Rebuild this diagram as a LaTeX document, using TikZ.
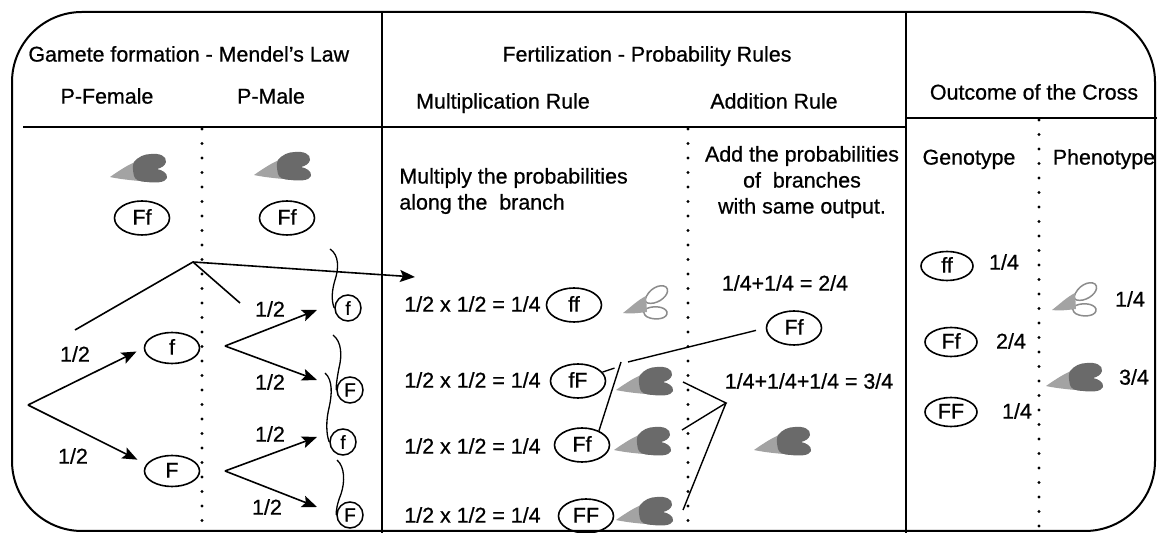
\documentclass[tikz,border=0pt]{standalone}
\usepackage{fontspec}
\setmainfont{Liberation Sans}[FakeBold=0.7]
\usetikzlibrary{arrows.meta,shapes.geometric,calc}

\definecolor{wingdark}{HTML}{6A6A6A}
\definecolor{winglight}{HTML}{A3A3A3}
\definecolor{wingline}{HTML}{8C8C8C}

\tikzset{
  every node/.style={font=\fontsize{10.7}{13}\selectfont, inner sep=0pt},
  txt/.style={text height=1.5ex, text depth=.25ex},
  geno/.style={ellipse, draw, line width=0.8pt, minimum width=27.5pt, minimum height=17pt, txt},
  genoR/.style={geno, minimum width=26pt, minimum height=14.5pt},
  gam/.style={circle, draw, line width=0.75pt, minimum size=13pt, font=\fontsize{9.5}{10}\selectfont},
  divider/.style={line width=1.4pt},
  outline/.style={line width=1pt},
  dotline/.style={line width=1.6pt, line cap=round, dash pattern=on 0pt off 7.25pt},
  treearrow/.style={line width=0.8pt, -{Stealth[length=7.5pt,width=6pt,inset=1.5pt]}},
  joinline/.style={line width=0.7pt},
  squig/.style={line width=0.65pt},
}

% fly with dark (normal) wings
\newcommand{\darkfly}[1]{%
  \begin{scope}[shift={(#1)}]
    \fill[winglight] (-29,9) .. controls (-19,2) and (-11,-3) .. (-4,-6) -- (0,13)
      .. controls (-10,12) and (-20,11) .. (-29,9) -- cycle;
    \fill[wingdark] (-5,-6) .. controls (-1,-11) and (5,-14) .. (12,-14)
      .. controls (20,-15) and (28,-12) .. (27,-6)
      .. controls (26,-2) and (22,0) .. (18,1)
      .. controls (23,2) and (29,5) .. (28,10)
      .. controls (26,15) and (16,15) .. (8,14)
      .. controls (1,14) and (-4,12) .. (-5,8)
      .. controls (-6,3) and (-7,-2) .. (-5,-6) -- cycle;
  \end{scope}}

% fly with pale (mutant) wings
\newcommand{\palefly}[1]{%
  \begin{scope}[shift={(#1)}]
    \filldraw[fill=white, draw=wingline, line width=0.75pt]
      (0,-2) .. controls (3,-13) and (15,-19) .. (21,-15)
      .. controls (26,-10) and (18,-1) .. (9,1)
      .. controls (4,2) and (0,1) .. (0,-2) -- cycle;
    \filldraw[fill=white, draw=wingline, line width=0.75pt]
      (-1,8) .. controls (6,3) and (20,4) .. (22,10)
      .. controls (23,17) and (11,18) .. (5,16)
      .. controls (0,15) and (-2,11) .. (-1,8) -- cycle;
    \fill[winglight] (-22,11) .. controls (-13,4) and (-7,-2) .. (1,-6) -- (2,10)
      .. controls (-6,11) and (-14,12) .. (-22,11) -- cycle;
  \end{scope}}

\begin{document}
\begin{tikzpicture}[x=0.5pt, y=-0.5pt]
\useasboundingbox (0,0) rectangle (1157,533);

% frame and column structure
\draw[outline, rounded corners=35pt] (12,12) rectangle (1155,531);
\draw[divider] (382,12) -- (382,533);
\draw[divider] (906,12) -- (906,533);
\draw[outline] (23,127) -- (906,127);
\draw[outline] (906,118) -- (1157,118);
\draw[dotline] (202,129) -- (202,533);
\draw[dotline] (688,129) -- (688,533);
\draw[dotline] (1039,120) -- (1039,533);

% headings
\node[txt, anchor=west] (tGam) at (28,55) {Gamete formation - Mendel's Law};
\node[txt] (tFem) at (107,97) {P-Female};
\node[txt] (tMale) at (271,97) {P-Male};
\node[txt] (tFert) at (647,55) {Fertilization - Probability Rules};
\node[txt] (tMul) at (503,102) {Multiplication Rule};
\node[txt] (tAdd) at (774,102) {Addition Rule};
\node[txt] (tOut) at (1034,93) {Outcome of the Cross};

% parents
\darkfly{139,168}
\darkfly{283,166}
\node[geno] (pFem) at (142,218) {Ff};
\node[geno] (pMale) at (287,218) {Ff};

% female gametes
\coordinate (root) at (28,405);
\node[geno, minimum height=15.5pt] (fe1) at (172,348) {f};
\node[geno, minimum height=15.5pt] (fe2) at (172,471) {F};
\draw[treearrow, shorten >=4pt] (root) -- (fe1.west);
\draw[treearrow, shorten >=5pt] (root) -- (fe2.165);
\node[txt] (lf1) at (75,355) {1/2};
\node[txt] (lf2) at (73,457) {1/2};

% male gametes
\coordinate (b1) at (225,346);
\coordinate (b2) at (225,471);
\coordinate (a1) at (317,310);
\coordinate (a2) at (317,380);
\coordinate (a3) at (317,437);
\coordinate (a4) at (317,507);
\draw[treearrow] (b1) -- (a1);
\draw[treearrow] (b1) -- (a2);
\draw[treearrow] (b2) -- (a3);
\draw[treearrow] (b2) -- (a4);
\node[txt] (lm1) at (270,310) {1/2};
\node[txt] (lm2) at (270,383) {1/2};
\node[txt] (lm3) at (270,435) {1/2};
\node[txt] (lm4) at (267,508) {1/2};

\node[gam] (g1) at (348,308) {f};
\node[gam] (g2) at (350,390) {F};
\node[gam] (g3) at (343,442) {f};
\node[gam] (g4) at (350,515) {F};
\coordinate (q1) at (330,249);
\coordinate (q2) at (333,335);
\coordinate (q3) at (325,373);
\coordinate (q4) at (337,460);
\draw[squig] (q1) .. controls (339,255) and (339,268) .. (335,280)
  .. controls (332,290) and (331,300) .. (g1.west);
\draw[squig] (q2) .. controls (342,342) and (342,356) .. (339,368)
  .. controls (337,378) and (336,386) .. (g2.west);
\draw[squig] (q3) .. controls (333,380) and (332,395) .. (329,408)
  .. controls (326,420) and (326,434) .. (g3.west);
\draw[squig] (q4) .. controls (345,467) and (345,482) .. (341,494)
  .. controls (337,504) and (336,511) .. (g4.west);

% path of the first branch into the multiplication rule
\coordinate (pa) at (75,330);
\coordinate (pk) at (193,262);
\coordinate (pb) at (240,303);
\coordinate (mulIn) at (415,277);
\draw[joinline, line width=0.8pt] (pa) -- (pk) -- (pb);
\draw[treearrow] (pk) -- (mulIn);

% multiplication rule
\node[align=left, anchor=west] (tMulDesc) at (399,191) {Multiply the probabilities\\along the~ branch};
\node[txt, anchor=west] (m1) at (404,305) {1/2 x 1/2 = 1/4};
\node[txt, anchor=west] (m2) at (404,381) {1/2 x 1/2 = 1/4};
\node[txt, anchor=west] (m3) at (404,447) {1/2 x 1/2 = 1/4};
\node[txt, anchor=west] (m4) at (404,516) {1/2 x 1/2 = 1/4};
\node[geno] (gff) at (574,305) {ff};
\node[geno] (gfF) at (578,381) {fF};
\node[geno] (gFf) at (582,445) {Ff};
\node[geno] (gFF) at (586,516) {FF};
\palefly{645,302}
\darkfly{645,381}
\darkfly{643,441}
\darkfly{645,511}

% addition rule
\node[align=center] (tAddDesc) at (802,182) {Add the probabilities\\of~ branches\\with same output.};
\node[txt] (s2) at (785,284) {1/4+1/4 = 2/4};
\node[geno] (aFf) at (794,328) {Ff};
\node[txt] (s3) at (809,382) {1/4+1/4+1/4 = 3/4};
\darkfly{783,441}

\coordinate (j1) at (621,362);
\coordinate (j2) at (628,362);
\draw[joinline] (gfF.20) -- ++(12,-4);
\draw[joinline] (gFf.40) -- (j1);
\draw[joinline, shorten >=5pt] (j2) -- (aFf.west);

\coordinate (c3) at (726,403);
\coordinate (e2) at (683,382);
\coordinate (e3) at (682,430);
\coordinate (e4) at (683,510);
\draw[joinline] (e2) -- (c3) -- (e3);
\draw[joinline] (c3) -- (e4);

% outcome of the cross
\node[txt] (tGen) at (969,158) {Genotype};
\node[txt] (tPhen) at (1104,158) {Phenotype};
\node[genoR] (rff) at (947,266) {ff};
\node[txt] (rp1) at (1004,263) {1/4};
\node[genoR] (rFf) at (951,342) {Ff};
\node[txt] (rp2) at (1011,342) {2/4};
\node[genoR] (rFF) at (951,412) {FF};
\node[txt] (rp3) at (1017,412) {1/4};
\palefly{1074,299}
\node[txt] (ph1) at (1130,300) {1/4};
\darkfly{1075,377}
\node[txt] (ph2) at (1134,378) {3/4};
\end{tikzpicture}
\end{document}
